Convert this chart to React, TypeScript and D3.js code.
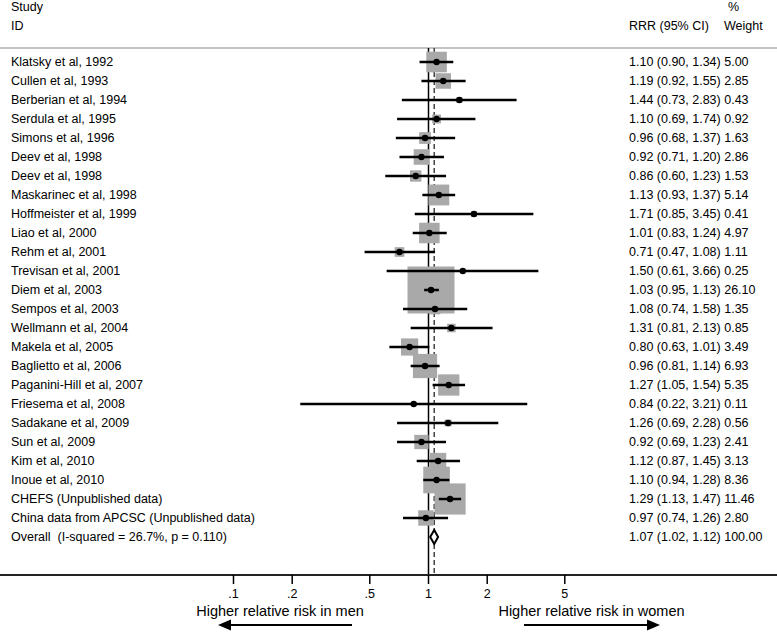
import React from "react";
import * as d3 from "d3";

const studies = [
  "Klatsky et al, 1992",
  "Cullen et al, 1993",
  "Berberian et al, 1994",
  "Serdula et al, 1995",
  "Simons et al, 1996",
  "Deev et al, 1998",
  "Deev et al, 1998",
  "Maskarinec et al, 1998",
  "Hoffmeister et al, 1999",
  "Liao et al, 2000",
  "Rehm et al, 2001",
  "Trevisan et al, 2001",
  "Diem et al, 2003",
  "Sempos et al, 2003",
  "Wellmann et al, 2004",
  "Makela et al, 2005",
  "Baglietto et al, 2006",
  "Paganini-Hill et al, 2007",
  "Friesema et al, 2008",
  "Sadakane et al, 2009",
  "Sun et al, 2009",
  "Kim et al, 2010",
  "Inoue et al, 2010",
  "CHEFS (Unpublished data)",
  "China data from APCSC (Unpublished data)",
];
const rrr = [1.10, 1.19, 1.44, 1.10, 0.96, 0.92, 0.86, 1.13, 1.71, 1.01, 0.71, 1.50, 1.03, 1.08, 1.31, 0.80, 0.96, 1.27, 0.84, 1.26, 0.92, 1.12, 1.10, 1.29, 0.97];
const lower = [0.90, 0.92, 0.73, 0.69, 0.68, 0.71, 0.60, 0.93, 0.85, 0.83, 0.47, 0.61, 0.95, 0.74, 0.81, 0.63, 0.81, 1.05, 0.22, 0.69, 0.69, 0.87, 0.94, 1.13, 0.74];
const upper = [1.34, 1.55, 2.83, 1.74, 1.37, 1.20, 1.23, 1.37, 3.45, 1.24, 1.08, 3.66, 1.13, 1.58, 2.13, 1.01, 1.14, 1.54, 3.21, 2.28, 1.23, 1.45, 1.28, 1.47, 1.26];
const weights = [5.00, 2.85, 0.43, 0.92, 1.63, 2.86, 1.53, 5.14, 0.41, 4.97, 1.11, 0.25, 26.10, 1.35, 0.85, 3.49, 6.93, 5.35, 0.11, 0.56, 2.41, 3.13, 8.36, 11.46, 2.80];

const overallLabel = "Overall  (I-squared = 26.7%, p = 0.110)";
const overall = { est: 1.07, lo: 1.02, hi: 1.12, w: 100.0 };

const tickValues = [0.1, 0.2, 0.5, 1, 2, 5];
const tickLabels = [".1", ".2", ".5", "1", "2", "5"];

const W = 777;
const H = 632;
const FONT = "'Liberation Sans', Arial, sans-serif";

const fmt = (v: number) => v.toFixed(2);

export default function App() {
  const x = d3.scaleLog().domain([0.1, 1]).range([233.5, 428.5]);
  const nRows = studies.length + 1;
  const y = d3
    .scaleLinear()
    .domain([0, nRows - 1])
    .range([62, 62 + 19 * (nRows - 1)]);
  const boxSide = d3.scaleSqrt().domain([0, 26.1]).range([0, 47]);

  const axisY = 575;
  const topY = 48;
  const textX = 11;
  const valX = 629;

  const overallRow = studies.length;

  return (
    <svg
      width={W}
      height={H}
      style={{ position: "fixed", left: 0, top: 0, background: "#fff" }}
      fontFamily={FONT}
    >
      <rect x={0} y={0} width={W} height={H} fill="#fff" />
      {/* header */}
      <text x={textX} y={7} fontSize={12.5} dominantBaseline="central">Study</text>
      <text x={textX} y={26} fontSize={12.5} dominantBaseline="central">ID</text>
      <text x={valX} y={26} fontSize={12.5} dominantBaseline="central">RRR (95% CI)</text>
      <text x={728} y={7} fontSize={12.5} dominantBaseline="central">%</text>
      <text x={724} y={26} fontSize={12.5} dominantBaseline="central">Weight</text>
      <line x1={0} x2={W} y1={topY} y2={topY} stroke="#c4c4c4" strokeWidth={2} />

      {/* reference lines */}
      <line x1={x(1)} x2={x(1)} y1={topY} y2={axisY} stroke="#000" strokeWidth={1.5} />
      <line
        x1={x(overall.est)}
        x2={x(overall.est)}
        y1={topY}
        y2={axisY}
        stroke="#444"
        strokeWidth={1.5}
        strokeDasharray="5,3"
      />

      {/* boxes */}
      {studies.map((s, i) => {
        const side = boxSide(weights[i]);
        return (
          <rect
            key={"b" + i}
            x={x(rrr[i]) - side / 2}
            y={y(i) - side / 2}
            width={side}
            height={side}
            fill="#a9a9a9"
          />
        );
      })}

      {/* CI lines + points */}
      {studies.map((s, i) => (
        <g key={"c" + i}>
          <line x1={x(lower[i])} x2={x(upper[i])} y1={y(i)} y2={y(i)} stroke="#000" strokeWidth={2.5} />
          <circle cx={x(rrr[i])} cy={y(i)} r={3.2} fill="#000" />
        </g>
      ))}

      {/* overall diamond */}
      <polygon
        points={[
          [x(overall.lo), y(overallRow)],
          [x(overall.est), y(overallRow) - 7],
          [x(overall.hi), y(overallRow)],
          [x(overall.est), y(overallRow) + 7],
        ]
          .map((p) => p.join(","))
          .join(" ")}
        fill="#fff"
        stroke="#000"
        strokeWidth={2}
      />

      {/* labels */}
      {studies.map((s, i) => (
        <g key={"t" + i}>
          <text x={textX} y={y(i)} fontSize={12.5} dominantBaseline="central">{s}</text>
          <text x={valX} y={y(i)} fontSize={12.5} dominantBaseline="central">
            {`${fmt(rrr[i])} (${fmt(lower[i])}, ${fmt(upper[i])}) ${fmt(weights[i])}`}
          </text>
        </g>
      ))}
      <text x={textX} y={y(overallRow)} fontSize={12.5} dominantBaseline="central" style={{ whiteSpace: "pre" }}>
        {overallLabel}
      </text>
      <text x={valX} y={y(overallRow)} fontSize={12.5} dominantBaseline="central">
        {`${fmt(overall.est)} (${fmt(overall.lo)}, ${fmt(overall.hi)}) ${fmt(overall.w)}`}
      </text>

      {/* axis */}
      <line x1={0} x2={W} y1={axisY} y2={axisY} stroke="#222" strokeWidth={2} />
      {tickValues.map((t, i) => (
        <g key={"k" + i}>
          <line x1={x(t)} x2={x(t)} y1={axisY} y2={axisY + 9} stroke="#000" strokeWidth={1.5} />
          <text x={x(t)} y={594} fontSize={12.5} textAnchor="middle" dominantBaseline="central">
            {tickLabels[i]}
          </text>
        </g>
      ))}

      {/* direction annotations */}
      <text x={280} y={611} fontSize={14.5} textAnchor="middle" dominantBaseline="central">
        Higher relative risk in men
      </text>
      <text x={591.5} y={611} fontSize={14.5} textAnchor="middle" dominantBaseline="central">
        Higher relative risk in women
      </text>
      <line x1={352} x2={228} y1={625} y2={625} stroke="#000" strokeWidth={2} />
      <polygon points="218,625 231,619.5 231,630.5" fill="#000" />
      <line x1={524} x2={648} y1={625} y2={625} stroke="#000" strokeWidth={2} />
      <polygon points="660,625 647,619.5 647,630.5" fill="#000" />
    </svg>
  );
}
